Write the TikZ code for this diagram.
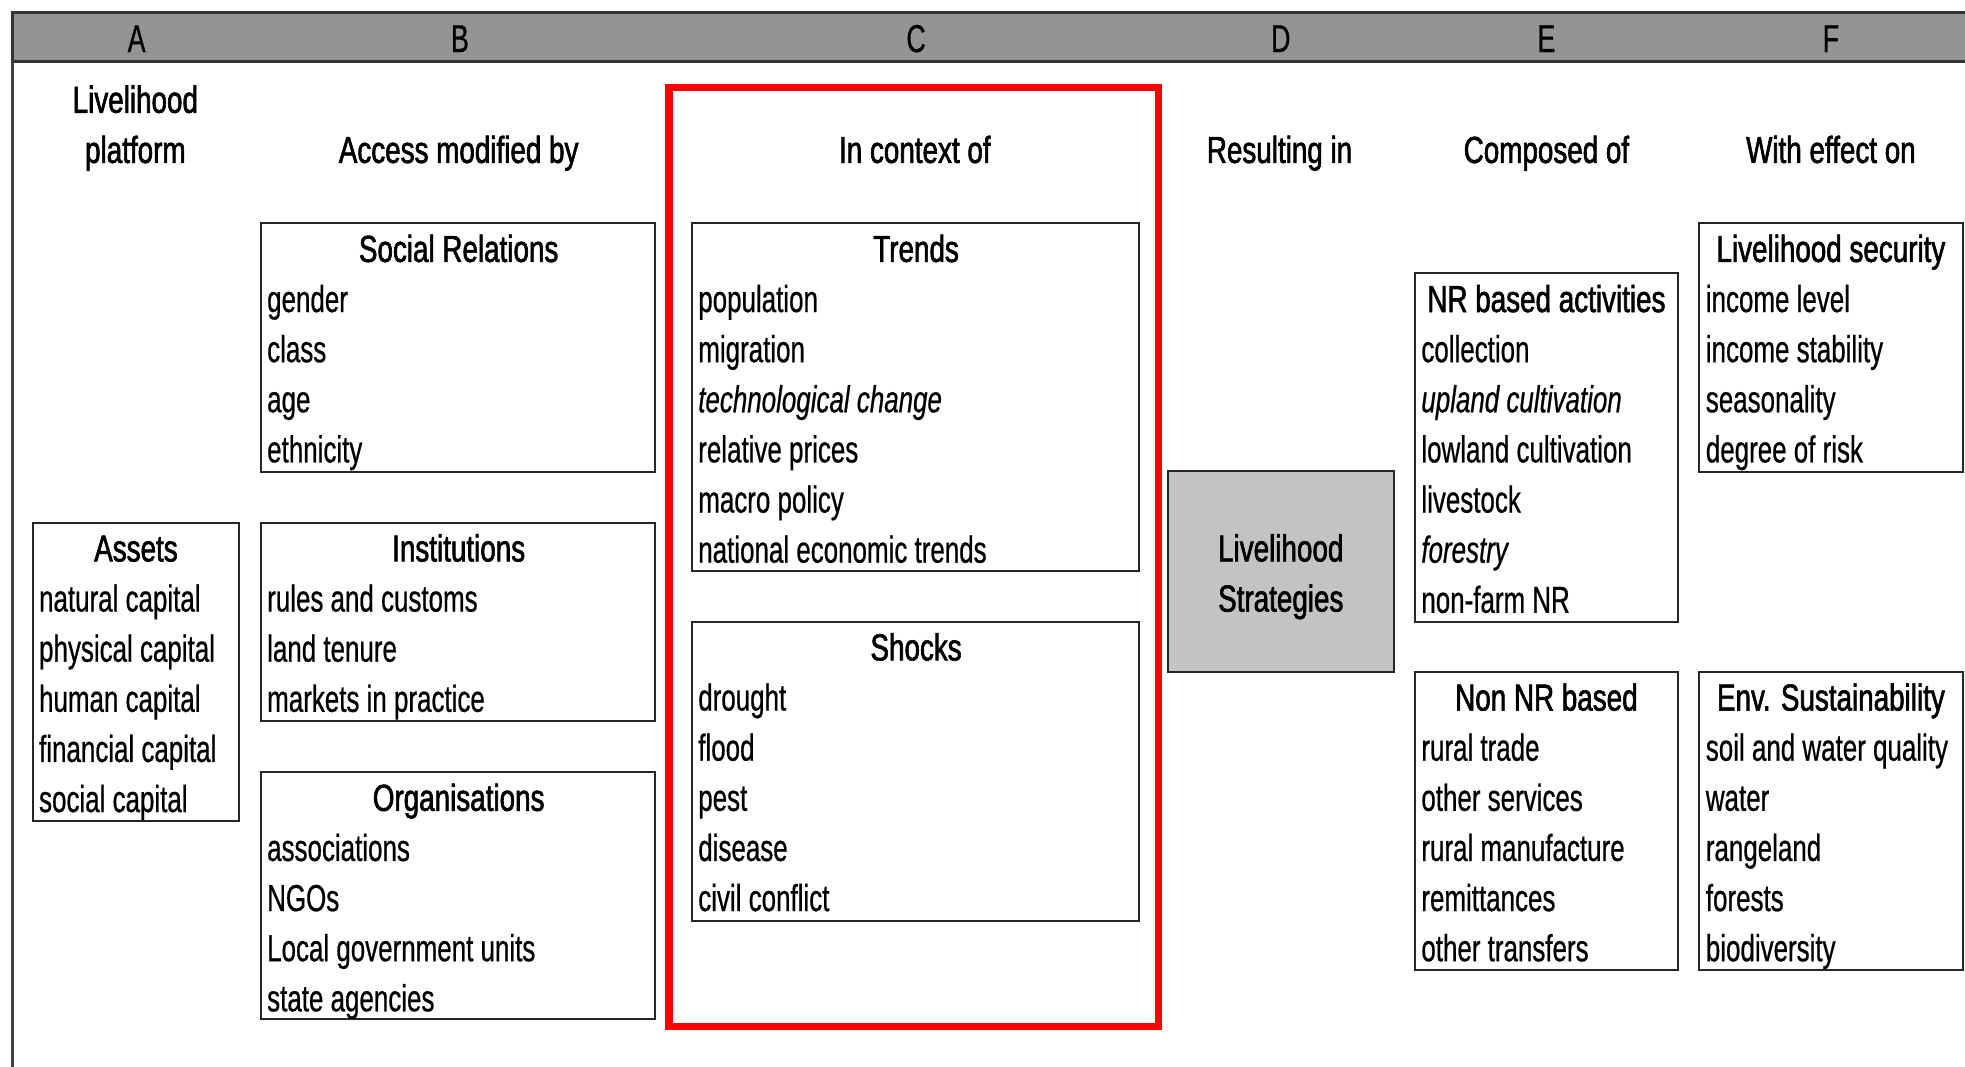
\documentclass[tikz,border=0pt]{standalone}
\usepackage{fontspec}
\setmainfont{Liberation Sans}[FakeStretch=0.69,FakeBold=0.6]
\newfontfamily\ttlfont{Liberation Sans}[FakeStretch=0.74,FakeBold=1.6]
\definecolor{hdrgray}{HTML}{949592}
\definecolor{lsgray}{HTML}{C3C2C5}
\definecolor{redframe}{HTML}{FF0000}
\tikzset{
  box/.style={draw=black!85, line width=1.6pt, anchor=north west, inner sep=0pt, outer sep=0pt},
  item/.style={anchor=base west, inner sep=0pt, font=\fontsize{30}{36}\selectfont},
  ttl/.style={anchor=base, inner sep=0pt, font=\ttlfont\fontsize{30}{36}\selectfont},
  colletter/.style={anchor=base, inner sep=0pt, font=\fontsize{31}{34}\selectfont},
}
\begin{document}
\begin{tikzpicture}[x=1pt,y=-1pt]
\useasboundingbox (0,0) rectangle (1568,851);
% header bar
\draw[fill=hdrgray, draw=black!80, line width=2.5pt] (10,10) rectangle (1580,49);
\draw[draw=black!75, line width=2pt] (10,49) -- (10,860);
\foreach \l/\x in {A/109,B/367,C/731,D/1022,E/1234,F/1461}
  \node[colletter] (col\l) at (\x,41.5) {\l};
% column titles
\node[ttl] (hA1) at (108,90) {Livelihood};
\node[ttl] (hA2) at (108,130) {platform};
\node[ttl] (hB) at (366,130) {Access modified by};
\node[ttl] (hC) at (730,130) {In context of};
\node[ttl] (hD) at (1021,130) {Resulting in};
\node[ttl] (hE) at (1234,130) {Composed of};
\node[ttl] (hF) at (1461,130) {With effect on};
% red frame
\draw[redframe, line width=6pt] (534,70) rectangle (924.5,819);
% boxes
\node[box, minimum width=315pt, minimum height=199pt] (sr) at (208,178) {};
\node[box, minimum width=315pt, minimum height=158pt] (inst) at (208,417) {};
\node[box, minimum width=315pt, minimum height=197pt] (org) at (208,616) {};
\node[box, minimum width=165pt, minimum height=238pt] (assets) at (26,417) {};
\node[box, minimum width=357pt, minimum height=278pt] (trends) at (552,178) {};
\node[box, minimum width=357pt, minimum height=239pt] (shocks) at (552,496) {};
\node[box, fill=lsgray, minimum width=180pt, minimum height=160pt] (ls) at (932,376) {};
\node[box, minimum width=210pt, minimum height=278pt] (nr) at (1129,218) {};
\node[box, minimum width=210pt, minimum height=238pt] (nonnr) at (1129,536) {};
\node[box, minimum width=210pt, minimum height=199pt] (lsec) at (1356,178) {};
\node[box, minimum width=210pt, minimum height=238pt] (env) at (1356,536) {};
% titles
\node[ttl] (srT) at (366,209) {Social Relations};
\node[ttl] (instT) at (366,448) {Institutions};
\node[ttl] (orgT) at (366,647) {Organisations};
\node[ttl] (assetsT) at (108.5,448) {Assets};
\node[ttl] (trendsT) at (731,209) {Trends};
\node[ttl] (shocksT) at (731,527) {Shocks};
\node[ttl] (ls1) at (1022,448) {Livelihood};
\node[ttl] (ls2) at (1022,488) {Strategies};
\node[ttl] (nrT) at (1234,249) {NR based activities};
\node[ttl] (nonnrT) at (1234,567) {Non NR based};
\node[ttl] (lsecT) at (1461,209) {Livelihood security};
\node[ttl] (envT) at (1461,567) {Env. Sustainability};
% items
\foreach \t [count=\i] in {gender,class,age,ethnicity}
  \node[item] (sr\i) at (213,{249+(\i-1)*40}) {\t};
\foreach \t [count=\i] in {rules and customs,land tenure,markets in practice}
  \node[item] (inst\i) at (213,{488+(\i-1)*40}) {\t};
\foreach \t [count=\i] in {associations,NGOs,Local government units,state agencies}
  \node[item] (org\i) at (213,{687+(\i-1)*40}) {\t};
\foreach \t [count=\i] in {natural capital,physical capital,human capital,financial capital,social capital}
  \node[item] (assets\i) at (31,{488+(\i-1)*40}) {\t};
\foreach \t [count=\i] in {population,migration,{\itshape technological change},relative prices,macro policy,national economic trends}
  \node[item] (trends\i) at (557,{249+(\i-1)*40}) {\t};
\foreach \t [count=\i] in {drought,flood,pest,disease,civil conflict}
  \node[item] (shocks\i) at (557,{567+(\i-1)*40}) {\t};
\foreach \t [count=\i] in {collection,{\itshape upland cultivation},lowland cultivation,livestock,{\itshape forestry},non-farm NR}
  \node[item] (nr\i) at (1134,{289+(\i-1)*40}) {\t};
\foreach \t [count=\i] in {rural trade,other services,rural manufacture,remittances,other transfers}
  \node[item] (nonnr\i) at (1134,{607+(\i-1)*40}) {\t};
\foreach \t [count=\i] in {income level,income stability,seasonality,degree of risk}
  \node[item] (lsec\i) at (1361,{249+(\i-1)*40}) {\t};
\foreach \t [count=\i] in {soil and water quality,water,rangeland,forests,biodiversity}
  \node[item] (env\i) at (1361,{607+(\i-1)*40}) {\t};
\end{tikzpicture}
\end{document}
